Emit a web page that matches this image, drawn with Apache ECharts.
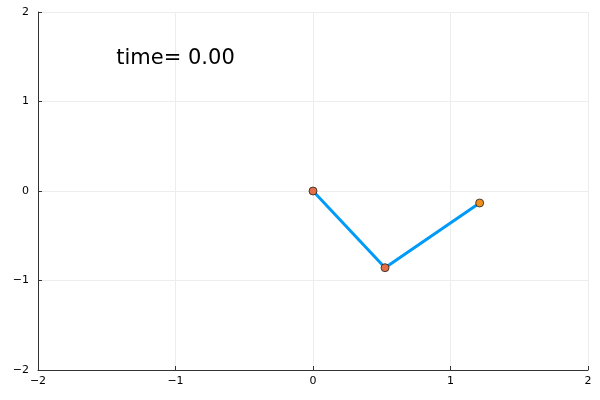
<!DOCTYPE html>
<html>
<head>
<meta charset="utf-8">
<script src="https://cdn.jsdelivr.net/npm/echarts@6/dist/echarts.min.js"></script>
<style>html,body{margin:0;padding:0;background:#fff}#c{width:600px;height:400px}</style>
</head>
<body>
<div id="c"></div>
<script>
var xTicks = [-2, -1, 0, 1, 2];
var yTicks = [-2, -1, 0, 1, 2];
var bobX = [0, 0.524, 1.212];
var bobY = [0, -0.857, -0.134];
var labelText = ["time= 0.00"];
var labelX = [-1];
var labelY = [1.5];

var chart = echarts.init(document.getElementById('c'), null, {renderer: 'canvas'});
var fmt = function (v) { return String(v).replace('-', '\u2212'); };
var pts = bobX.map(function (x, i) { return [x, bobY[i]]; });
var axisCommon = {
  type: 'value', min: -2, max: 2, interval: 1,
  axisLine: {show: true, onZero: false, lineStyle: {color: '#333', width: 1}},
  axisTick: {show: true, inside: true, length: 4, lineStyle: {color: '#333', width: 1}},
  splitLine: {show: true, lineStyle: {color: '#ededed', width: 1}},
  axisLabel: {color: '#000', fontSize: 11, fontFamily: 'DejaVu Sans', formatter: fmt}
};
chart.setOption({
  animation: false,
  backgroundColor: '#fff',
  grid: {left: 38, right: 12, top: 12, bottom: 30, containLabel: false},
  xAxis: Object.assign({}, axisCommon, {axisLabel: Object.assign({}, axisCommon.axisLabel, {margin: 6})}),
  yAxis: Object.assign({}, axisCommon, {axisLabel: Object.assign({}, axisCommon.axisLabel, {margin: 9})}),
  series: [
    {
      type: 'line', data: pts, symbol: 'none',
      lineStyle: {color: '#009af9', width: 3}, z: 2
    },
    {
      type: 'scatter', data: pts.slice(0, 2), symbolSize: 8,
      itemStyle: {color: '#e26f46', borderColor: '#222', borderWidth: 0.8, opacity: 1}, z: 3
    },
    {
      type: 'scatter', data: pts.slice(2), symbolSize: 8,
      itemStyle: {color: '#f28e1c', borderColor: '#222', borderWidth: 0.8, opacity: 1}, z: 3
    },
    {
      type: 'scatter', symbolSize: 0,
      itemStyle: {opacity: 1},
      data: labelX.map(function (x, i) { return {value: [x, labelY[i]], name: labelText[i]}; }),
      label: {show: true, position: 'inside', formatter: '{b}', color: '#000', opacity: 1,
              fontSize: 21, fontFamily: 'DejaVu Sans', offset: [0, 2]},
      z: 4
    }
  ]
});
</script>
</body>
</html>
